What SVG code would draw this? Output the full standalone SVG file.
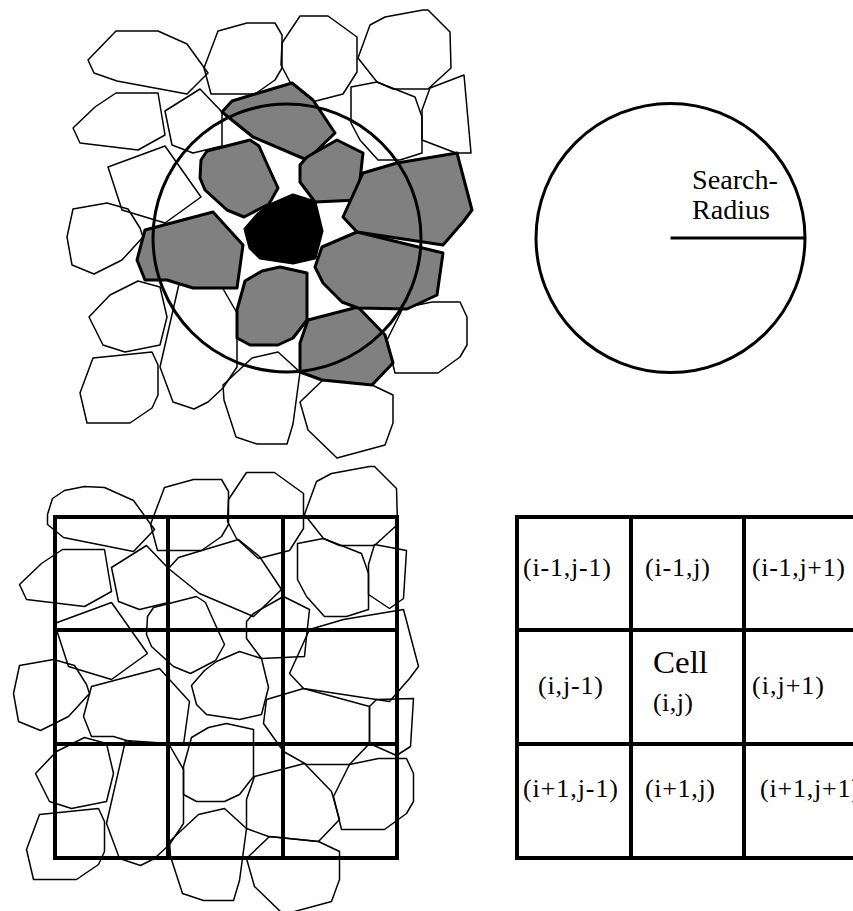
<svg xmlns="http://www.w3.org/2000/svg" xmlns:xlink="http://www.w3.org/1999/xlink" width="853" height="911" viewBox="0 0 853 911">
<style>
.thin{fill:none;stroke:#000;stroke-width:1.5;stroke-linejoin:round}
.gray{fill:#808080;stroke:#000;stroke-width:3;stroke-linejoin:round}
.blk{fill:#000;stroke:#000;stroke-width:3;stroke-linejoin:round}
.ring{fill:none;stroke:#000;stroke-width:3}
.grid{fill:none;stroke:#000;stroke-width:4}
text{font-family:"Liberation Serif","Times New Roman",serif;fill:#000}
.lbl{font-size:26px}
</style>
<defs>
<g id="whites">
<polygon points="218,31 247,23 275,23 282,35 282,68 275,80 255,94 211,94 204,68"/>
<polygon points="300,16 328,16 357,37 357,72 343,94 312,102 290,82 281,65 282,43"/>
<polygon points="377,82 358,58 370,25 385,17 423,10 428,10 450,32 451,68 428,89 393,89"/>
<polygon points="351,87 377,82 415,97 422,117 422,153 400,160 378,160 360,140 351,123"/>
<polygon points="73,128 95,107 116,93 158,93 165,135 138,150 80,143"/>
<polygon points="165,111 200,89 222,112 222,146 193,153 172,145"/>
<polygon points="108,167 165,146 201,197 165,223 122,210"/>
<polygon points="73,209 107,203 128,209 140,228 143,237 122,260 94,274 72,265 67,237"/>
<polygon points="89,317 110,295 138,281 160,287 167,317 160,345 125,352 103,345"/>
<polygon points="80,393 93,358 152,352 158,365 158,395 152,408 130,423 87,423"/>
<polygon points="179,284 222,287 237,313 237,367 223,388 208,402 194,409 173,402 160,367"/>
<polygon points="223,385 252,358 278,352 300,372 293,424 287,444 257,444 236,437 224,400"/>
<polygon points="300,402 323,380 372,385 393,395 393,423 385,445 337,458 308,430"/>
<polygon points="403,308 432,302 460,302 467,317 467,345 460,357 438,373 395,373 387,340"/>
</g>
<g id="grays">
<polygon points="222,112 232,101 292,83 313,100 335,133 307,160 253,137"/>
<polygon points="201,160 207,151 250,140 259,146 267,164 278,188 269,204 244,217 227,210 205,190 200,178"/>
<polygon points="300,165 307,157 337,140 363,153 360,180 358,200 315,202 300,182"/>
<polygon points="145,230 213,212 243,245 237,288 193,288 167,280 145,280 137,260"/>
<polygon points="245,281 262,271 280,267 307,273 307,320 293,338 278,345 250,345 237,338 237,310"/>
<polygon points="308,320 358,307 385,335 393,363 372,385 322,380 300,372 300,343"/>
<polygon points="343,217 363,173 397,163 457,153 472,210 463,222 443,245 357,232"/>
</g>
<polygon id="g6" points="315,267 322,247 357,232 443,253 437,295 407,309 358,308 342,302 323,283"/>
<polygon id="core" points="245,229 258,214 270,205 293,195 315,202 322,231 315,258 293,263 260,258 250,248"/>
</defs>

<g id="grain-search">
<polygon class="thin" points="88,60 116,31 158,31 187,44 208,73 187,94 117,81 94,73"/>
<polygon class="thin" points="430,88 464,75 471,153 456,153 422,140 422,110"/>
<use href="#whites" class="thin"/>
<use href="#grays" class="gray"/>
<use href="#g6" class="gray"/>
<use href="#core" class="blk"/>
<circle class="ring" cx="287" cy="238" r="134"/>
</g>

<g id="search-radius">
<circle class="ring" cx="670.5" cy="238" r="134.5"/>
<line x1="670.5" y1="238" x2="805" y2="238" stroke="#000" stroke-width="3"/>
<text x="692" y="189" font-size="27" textLength="86" lengthAdjust="spacingAndGlyphs">Search-</text>
<text x="692" y="219" font-size="27" textLength="78" lengthAdjust="spacingAndGlyphs">Radius</text>
</g>

<g id="grain-cells">
<g transform="translate(-53.5,456.5)">
<polygon class="thin" points="101,68 101,58 106,42 118,34 138,30 158,31 187,44 208,73 187,95 117,81"/>
<polygon class="thin" points="428,88 460,94 457,142 443,152 422,138 422,108"/>
<use href="#whites" class="thin"/>
<use href="#grays" class="thin"/>
<use href="#core" class="thin"/>
<polygon class="thin" points="320,243 357,232 423,250 423,287 403,308 360,308 337,295 317,267"/>
<polygon class="thin" points="423,250 430,243 467,242 464,290 450,299 423,287"/>
</g>
<g id="cell-grid-left" class="grid">
<rect x="55" y="517" width="342" height="341"/>
<line x1="168" y1="517" x2="168" y2="858"/>
<line x1="283" y1="517" x2="283" y2="858"/>
<line x1="55" y1="630" x2="397" y2="630"/>
<line x1="55" y1="744" x2="397" y2="744"/>
</g>
</g>

<g id="cell-grid-right">
<g class="grid">
<rect x="517" y="517" width="342" height="341"/>
<line x1="631" y1="517" x2="631" y2="858"/>
<line x1="744" y1="517" x2="744" y2="858"/>
<line x1="517" y1="630" x2="859" y2="630"/>
<line x1="517" y1="744" x2="859" y2="744"/>
</g>
<text class="lbl" x="523" y="576" textLength="88" lengthAdjust="spacing">(i-1,j-1)</text>
<text class="lbl" x="645" y="576" textLength="65" lengthAdjust="spacing">(i-1,j)</text>
<text class="lbl" x="752" y="576" textLength="93" lengthAdjust="spacing">(i-1,j+1)</text>
<text class="lbl" x="538" y="694" textLength="65" lengthAdjust="spacing">(i,j-1)</text>
<text x="653" y="673" font-size="32" textLength="55" lengthAdjust="spacingAndGlyphs">Cell</text>
<text class="lbl" x="653" y="711" textLength="40" lengthAdjust="spacing">(i,j)</text>
<text class="lbl" x="752" y="694" textLength="72" lengthAdjust="spacing">(i,j+1)</text>
<text class="lbl" x="523" y="797" textLength="95" lengthAdjust="spacing">(i+1,j-1)</text>
<text class="lbl" x="645" y="797" textLength="70" lengthAdjust="spacing">(i+1,j)</text>
<text class="lbl" x="760" y="797" textLength="100" lengthAdjust="spacing">(i+1,j+1)</text>
</g>
</svg>
